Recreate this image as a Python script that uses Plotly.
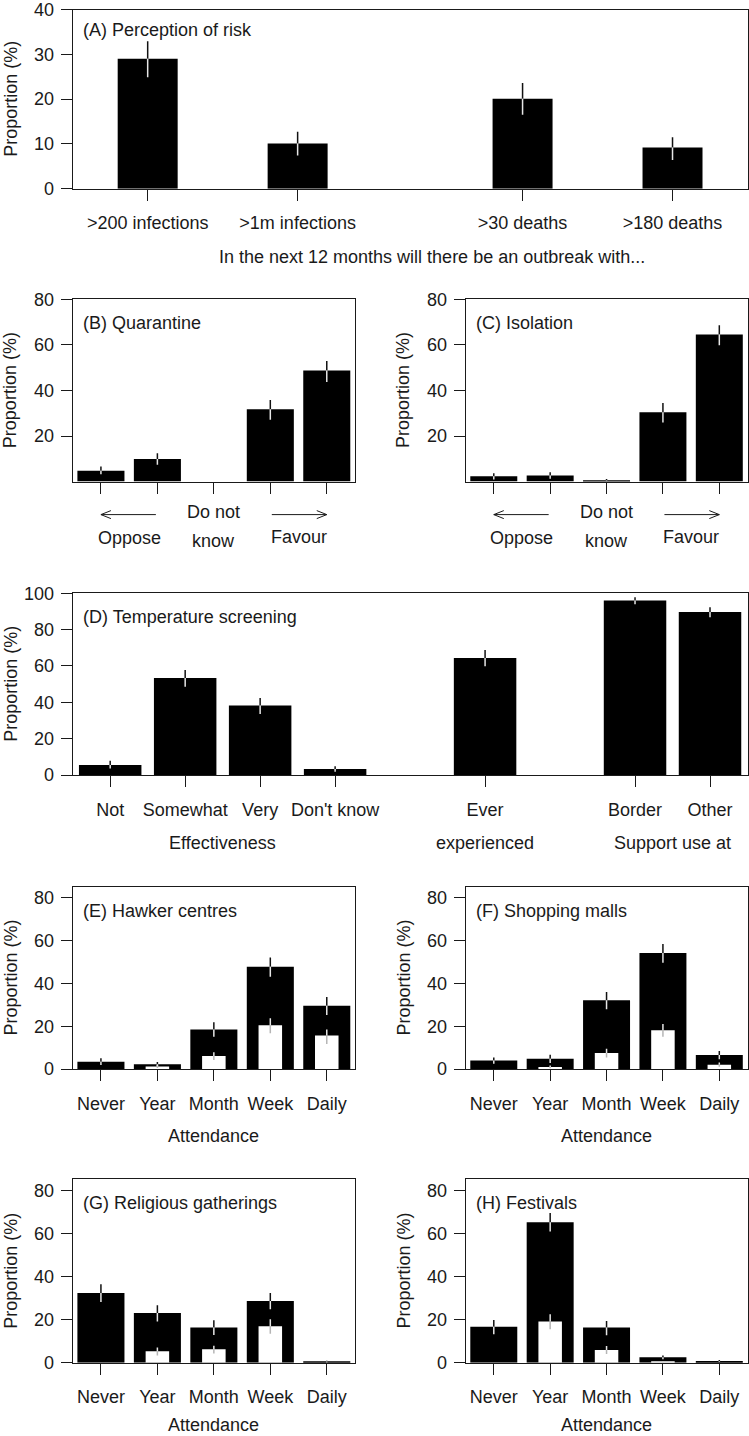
# Survey results: risk perception, quarantine / isolation support,
# temperature screening and attendance at crowded places.
# Panels are laid out in pixels to match the original R figure.

import plotly.graph_objects as go

W, H = 749, 1436
FONT = "Liberation Sans, Arial, sans-serif"
FS = 18
INK = "#1a1a1a"

# ---------------- data (proportions in %) ----------------
# (A) Perception of risk
risk_labels = [">200 infections", ">1m infections", ">30 deaths", ">180 deaths"]
risk_slots = [0, 1, 2.5, 3.5]          # gap between the two groups
risk_val = [29.0, 10.1, 20.1, 9.2]
risk_lo = [24.9, 7.4, 16.5, 6.4]
risk_hi = [32.9, 12.7, 23.6, 11.5]

# (B) Quarantine and (C) Isolation: oppose ... favour
quar_val = [4.8, 9.9, 0.0, 31.7, 48.7]
quar_lo = [3.2, 7.4, 0.0, 27.1, 43.7]
quar_hi = [6.6, 12.4, 0.0, 35.8, 52.9]

iso_val = [2.3, 2.7, 0.5, 30.4, 64.6]
iso_lo = [0.9, 1.2, 0.1, 25.9, 59.8]
iso_hi = [3.7, 4.1, 1.1, 34.5, 68.6]

# (D) Temperature screening
temp_labels = ["Not", "Somewhat", "Very", "Don't know", "Ever", "Border", "Other"]
temp_slots = [0, 1, 2, 3, 5, 7, 8]
temp_val = [5.5, 53.4, 38.2, 3.3, 64.4, 96.1, 89.7]
temp_lo = [3.6, 48.6, 33.6, 1.8, 59.8, 94.0, 86.8]
temp_hi = [7.9, 57.8, 42.4, 4.8, 68.8, 97.8, 92.3]

# (E)-(H) attendance; black = all, white = subset
attend_labels = ["Never", "Year", "Month", "Week", "Daily"]

hawker_val = [3.4, 2.2, 18.5, 47.8, 29.6]
hawker_lo = [1.9, 1.0, 15.1, 43.1, 25.2]
hawker_hi = [5.0, 3.3, 21.8, 52.1, 33.6]
hawker_sub = [0.0, 1.2, 6.1, 20.4, 15.6]
hawker_sub_lo = [0.0, 0.5, 4.2, 16.7, 11.7]
hawker_sub_hi = [0.0, 1.9, 7.8, 23.7, 18.5]

mall_val = [4.0, 4.8, 32.1, 54.2, 6.5]
mall_lo = [2.5, 2.8, 27.9, 49.6, 4.5]
mall_hi = [5.4, 6.7, 36.0, 58.4, 8.4]
mall_sub = [0.0, 0.9, 7.5, 18.1, 2.0]
mall_sub_lo = [0.0, 0.3, 5.4, 15.1, 1.0]
mall_sub_hi = [0.0, 1.6, 9.5, 21.0, 3.0]

relig_val = [32.4, 23.1, 16.4, 28.7, 0.5]
relig_lo = [28.2, 19.1, 12.9, 24.8, 0.1]
relig_hi = [36.4, 26.7, 19.7, 32.4, 0.9]
relig_sub = [0.0, 5.3, 6.2, 16.9, 0.0]
relig_sub_lo = [0.0, 3.4, 4.3, 13.5, 0.0]
relig_sub_hi = [0.0, 7.1, 7.9, 20.2, 0.0]

fest_val = [16.7, 65.3, 16.3, 2.5, 0.8]
fest_lo = [13.2, 60.9, 12.7, 1.6, 0.4]
fest_hi = [19.8, 69.5, 19.4, 3.4, 1.2]
fest_sub = [0.0, 19.1, 5.9, 0.5, 0.0]
fest_sub_lo = [0.0, 15.5, 4.0, 0.2, 0.0]
fest_sub_hi = [0.0, 22.5, 7.8, 0.8, 0.0]

# bar centres in barplot units (width 1, space 0.2)
five_pos = [0.7 + 1.2 * k for k in range(5)]
risk_pos = [1.25 + 2.5 * s for s in risk_slots]
temp_pos = [0.7 + 1.2 * s for s in temp_slots]

fig = go.Figure()


def names(i):
    s = "" if i == 1 else str(i)
    return "x" + s, "y" + s, "xaxis" + s, "yaxis" + s


def set_axes(i, box, xr, yr, xvals, xtext, yvals):
    # box = (left, top, right, bottom) in pixels
    left, top, right, bottom = box
    x, y, xa, ya = names(i)
    common = dict(showline=True, mirror=True, linecolor=INK, linewidth=1,
                  ticks="outside", ticklen=11, tickwidth=1, tickcolor=INK,
                  showgrid=False, zeroline=False, fixedrange=True, automargin=False,
                  ticklabeloverflow="allow",
                  tickfont=dict(family=FONT, size=FS, color=INK))
    fig.update_layout({
        xa: dict(common, domain=[left / W, right / W], range=xr, anchor=y,
                 tickmode="array", tickvals=xvals,
                 ticktext=xtext if xtext else [""] * len(xvals),
                 ticklabelstandoff=7),
        ya: dict(common, domain=[1 - bottom / H, 1 - top / H], range=yr, anchor=x,
                 tickmode="array", tickvals=yvals, ticklabelstandoff=3),
    })


def split(segs, xp, a, b, top, sub):
    # colour of the error line depends on what it is drawn over
    for lo_, hi_, key in [(0, sub, "mid"), (sub, top, "light"), (top, 1e9, "dark")]:
        s, e = max(a, lo_), min(b, hi_)
        if e > s:
            segs[key][0] += [xp, xp, None]
            segs[key][1] += [s, e, None]


def add_bars(i, pos, val, lo, hi, sub=None, sub_lo=None, sub_hi=None):
    x, y, _, _ = names(i)
    fig.add_trace(go.Bar(x=pos, y=val, width=1, xaxis=x, yaxis=y,
                         marker=dict(color="black", line_width=0), hoverinfo="skip"))
    if sub is not None:
        fig.add_trace(go.Bar(x=pos, y=sub, width=0.5, xaxis=x, yaxis=y,
                             marker=dict(color="white", line_width=0), hoverinfo="skip"))
    segs = {"dark": [[], []], "light": [[], []], "mid": [[], []]}
    for k, xp in enumerate(pos):
        w = sub[k] if sub is not None else 0
        if hi[k] > lo[k]:
            split(segs, xp, lo[k], hi[k], val[k], w)
        if sub is not None and sub_hi[k] > sub_lo[k]:
            split(segs, xp, sub_lo[k], sub_hi[k], val[k], w)
    colours = {"dark": "#111111", "light": "#e6e6e6", "mid": "#b5b5b5"}
    for key, (xs, ys) in segs.items():
        if xs:
            fig.add_trace(go.Scatter(x=xs, y=ys, mode="lines", xaxis=x, yaxis=y,
                                     line=dict(color=colours[key], width=1.5),
                                     hoverinfo="skip"))


def note(text, x, y, xref="paper", yref="paper", xshift=0, yshift=0,
         xanchor="center", yanchor="middle", angle=0):
    fig.add_annotation(text=text, x=x, y=y, xref=xref, yref=yref,
                       xshift=xshift, yshift=yshift, xanchor=xanchor,
                       yanchor=yanchor, textangle=angle, showarrow=False,
                       font=dict(family=FONT, size=FS, color=INK))


# panel boxes in pixels (left, top, right, bottom)
LEFT_L, LEFT_R = 72.7, 355.0
RIGHT_L, RIGHT_R = 465.6, 747.5
box_A = (LEFT_L, 9.5, RIGHT_R, 188.7)
box_B = (LEFT_L, 299.3, LEFT_R, 481.6)
box_C = (RIGHT_L, 299.3, RIGHT_R, 481.6)
box_D = (LEFT_L, 593.3, RIGHT_R, 775.0)
box_E = (LEFT_L, 886.7, LEFT_R, 1069.0)
box_F = (RIGHT_L, 886.7, RIGHT_R, 1069.0)
box_G = (LEFT_L, 1179.3, LEFT_R, 1362.7)
box_H = (RIGHT_L, 1179.3, RIGHT_R, 1362.7)

five_range = [0.1, 6.1]
att_range = [0, 85.2]

# (A)
set_axes(1, box_A, [0, 11.25], [0, 40], risk_pos, risk_labels, [0, 10, 20, 30, 40])
add_bars(1, risk_pos, risk_val, risk_lo, risk_hi)
# (B), (C)
set_axes(2, box_B, five_range, [0, 80], five_pos, None, [20, 40, 60, 80])
add_bars(2, five_pos, quar_val, quar_lo, quar_hi)
set_axes(3, box_C, five_range, [0, 80], five_pos, None, [20, 40, 60, 80])
add_bars(3, five_pos, iso_val, iso_lo, iso_hi)
# (D)
set_axes(4, box_D, [0.1, 10.9], [0, 100], temp_pos, temp_labels, [0, 20, 40, 60, 80, 100])
add_bars(4, temp_pos, temp_val, temp_lo, temp_hi)
# (E)-(H)
set_axes(5, box_E, five_range, att_range, five_pos, attend_labels, [0, 20, 40, 60, 80])
add_bars(5, five_pos, hawker_val, hawker_lo, hawker_hi, hawker_sub, hawker_sub_lo, hawker_sub_hi)
set_axes(6, box_F, five_range, att_range, five_pos, attend_labels, [0, 20, 40, 60, 80])
add_bars(6, five_pos, mall_val, mall_lo, mall_hi, mall_sub, mall_sub_lo, mall_sub_hi)
set_axes(7, box_G, five_range, att_range, five_pos, attend_labels, [0, 20, 40, 60, 80])
add_bars(7, five_pos, relig_val, relig_lo, relig_hi, relig_sub, relig_sub_lo, relig_sub_hi)
set_axes(8, box_H, five_range, att_range, five_pos, attend_labels, [0, 20, 40, 60, 80])
add_bars(8, five_pos, fest_val, fest_lo, fest_hi, fest_sub, fest_sub_lo, fest_sub_hi)

# panel titles and y titles
titles = ["(A) Perception of risk", "(B) Quarantine", "(C) Isolation",
          "(D) Temperature screening", "(E) Hawker centres", "(F) Shopping malls",
          "(G) Religious gatherings", "(H) Festivals"]
boxes = [box_A, box_B, box_C, box_D, box_E, box_F, box_G, box_H]
for i, (t, b) in enumerate(zip(titles, boxes), start=1):
    x, y, _, _ = names(i)
    note(t, 0, 1, xref=x + " domain", yref=y + " domain", xshift=8,
         yshift=-20 if i == 1 else -24, xanchor="left")
    note("Proportion (%)", (b[0] - 62) / W, 0.5, yref=y + " domain", angle=-90)

# x titles
note("In the next 12 months will there be an outbreak with...", 431.5 / W, 0,
     yref="y domain", yshift=-68)
for i in (5, 6, 7, 8):
    x, y, _, _ = names(i)
    note("Attendance", 0.5, 0, xref=x + " domain", yref=y + " domain",
         yshift=-67 if i < 7 else -62)

# (D) second row of labels
groups = [("Effectiveness", temp_pos[0:4]), ("experienced", temp_pos[4:5]),
          ("Support use at", temp_pos[5:7])]
for text, ps in groups:
    note(text, sum(ps) / len(ps), 0, xref="x4", yref="y4 domain", yshift=-68)

# (B), (C) oppose / favour scale under the axis
for i in (2, 3):
    x, y, _, _ = names(i)
    yd = y + " domain"
    note("Do not", five_pos[2], 0, xref=x, yref=yd, yshift=-30)
    note("know", five_pos[2], 0, xref=x, yref=yd, yshift=-59)
    note("Oppose", (five_pos[0] + five_pos[1]) / 2, 0, xref=x, yref=yd, yshift=-56)
    note("Favour", (five_pos[3] + five_pos[4]) / 2, 0, xref=x, yref=yd, yshift=-55)
    for head, tail in [(five_pos[0], five_pos[1]), (five_pos[4], five_pos[3])]:
        fig.add_annotation(x=head, y=0, ax=tail, ay=0, xref=x, yref=yd,
                           axref=x, ayref=yd, yshift=-33, text="",
                           showarrow=True, arrowhead=0, arrowwidth=1,
                           arrowcolor=INK)
        d = -10 if head < tail else 10
        # open arrow head drawn as a small path in pixels
        fig.add_shape(type="path", xref=x, yref=yd, xsizemode="pixel",
                      ysizemode="pixel", xanchor=head, yanchor=0,
                      path=f"M{-d},-29 L0,-33 L{-d},-37",
                      line=dict(color=INK, width=1))

fig.update_layout(width=W, height=H, margin=dict(l=0, r=0, t=0, b=0),
                  barmode="overlay", showlegend=False,
                  plot_bgcolor="white", paper_bgcolor="white",
                  font=dict(family=FONT, size=FS, color=INK))

# drop the browser's default page margin so the figure fills the window
fig.write_html("out.html", config={"displayModeBar": False},
               post_script="document.body.style.margin='0';"
                           "document.body.style.overflow='hidden';")
